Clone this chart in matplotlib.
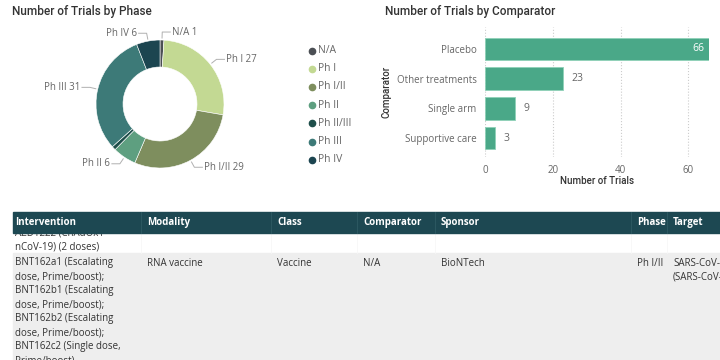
import matplotlib.pyplot as plt
import numpy as np

plt.rcParams['font.family'] = ['Open Sans', 'DejaVu Sans']

# donut data
phases = ['N/A', 'Ph I', 'Ph I/II', 'Ph II', 'Ph II/III', 'Ph III', 'Ph IV']
phase_counts = [1, 27, 29, 6, 1, 31, 6]
phase_colors = ['#4b4f54', '#c3d993', '#7e8e5e', '#5e9f80', '#1f4f4b', '#3d7a78', '#1c4550']
phase_show_label = [True, True, True, True, False, True, True]

# bar data
comparators = ['Placebo', 'Other treatments', 'Single arm', 'Supportive care']
comp_counts = [66, 23, 9, 3]

# table data
headers = ['Intervention', 'Modality', 'Class', 'Comparator', 'Sponsor', 'Phase', 'Target']
col_x = [15, 147, 277, 363, 441, 637, 673]
row1_lines = ['AZD1222 (ChAdOx1', 'nCoV-19) (2 doses)']
row2_cells = [
    ['BNT162a1 (Escalating', 'dose, Prime/boost);', 'BNT162b1 (Escalating',
     'dose, Prime/boost);', 'BNT162b2 (Escalating', 'dose, Prime/boost);',
     'BNT162c2 (Single dose,', 'Prime/boost)'],
    ['RNA vaccine'], ['Vaccine'], ['N/A'], ['BioNTech'], ['Ph I/II'],
    ['SARS-CoV-2', '(SARS-CoV-2)'],
]

W, H = 720, 360
fig = plt.figure(figsize=(7.2, 3.6), dpi=100)
fig.patch.set_facecolor('white')

def px_axes(x0, y0, x1, y1):
    # rectangle given in pixels, y from the top
    return fig.add_axes([x0 / W, 1 - y1 / H, (x1 - x0) / W, (y1 - y0) / H])

# background canvas in pixel coords
bg = px_axes(0, 0, W, H)
bg.set_xlim(0, W)
bg.set_ylim(H, 0)
bg.axis('off')

txt_gray = '#666666'
title_col = '#333333'

bg.text(12, 12, 'Number of Trials by Phase', fontsize=8.5, color=title_col,
        va='center', ha='left', family=['Roboto', 'DejaVu Sans'], fontweight='medium')
bg.text(385, 12, 'Number of Trials by Comparator', fontsize=8.5, color=title_col,
        va='center', ha='left', family=['Roboto', 'DejaVu Sans'], fontweight='medium')

# ---- donut ----
cx, cy = 160, 104
R = 64
dax = px_axes(cx - 100, cy - 100, cx + 100, cy + 100)
wedges, _ = dax.pie(phase_counts, colors=phase_colors, radius=R, startangle=90,
                    counterclock=False,
                    wedgeprops=dict(width=27, edgecolor='white', linewidth=0.4))
dax.set_xlim(-100, 100)
dax.set_ylim(-100, 100)
dax.set_aspect('equal')
dax.axis('off')
for w, name, n, show in zip(wedges, phases, phase_counts, phase_show_label):
    if not show:
        continue
    ang = np.deg2rad((w.theta1 + w.theta2) / 2)
    x0, y0 = (R + 2) * np.cos(ang), (R + 2) * np.sin(ang)
    x1, y1 = (R + 8) * np.cos(ang), (R + 8) * np.sin(ang)
    side = 1 if np.cos(ang) >= 0 else -1
    x2 = x1 + side * 8
    dax.plot([x0, x1, x2], [y0, y1, y1], color='#b0b0b0', lw=0.7, clip_on=False)
    dax.text(x2 + side * 2, y1, f'{name} {n}', fontsize=7, color=txt_gray,
             ha='left' if side > 0 else 'right', va='center', clip_on=False)

# legend
for i, (name, c) in enumerate(zip(phases, phase_colors)):
    ly = 50.5 + i * 18.2
    bg.plot(312, ly, 'o', color=c, ms=4.5)
    bg.text(318, ly, name, fontsize=7.5, color=txt_gray, va='center', ha='left')

# ---- bar chart ----
bax = px_axes(485, 27, 708.6, 157)
ypos = np.arange(len(comparators))
bax.barh(ypos, comp_counts, height=0.76, color='#4aa888', edgecolor='#8fd1b8', linewidth=0.6)
bax.set_xlim(0, 66)
bax.set_ylim(len(comparators) - 0.36, -0.74)
bax.set_yticks(ypos)
bax.set_yticklabels(comparators)
bax.set_xticks([0, 20, 40, 60])
bax.tick_params(axis='both', length=0, labelsize=7, labelcolor=txt_gray, pad=6)
for s in bax.spines.values():
    s.set_visible(False)
bax.grid(axis='x', linestyle=':', color='#cccccc', lw=0.8)
bax.set_axisbelow(True)
bax.set_xlabel('Number of Trials', fontsize=7, color=title_col, labelpad=0,
               family=['Roboto', 'DejaVu Sans'], fontweight='medium')
bax.set_ylabel('Comparator', fontsize=7, color=title_col, labelpad=4,
               family=['Roboto', 'DejaVu Sans'], fontweight='medium')
for y, v in zip(ypos, comp_counts):
    if v > 50:
        bax.text(v - 1.2, y, str(v), ha='right', va='center', fontsize=7.5, color='white')
    else:
        bax.text(v + 2.5, y, str(v), ha='left', va='center', fontsize=7.5, color=txt_gray)

# ---- table ----
hdr_top, hdr_bot = 212, 233
row2_top = 253
line_h = 14

bg.add_patch(plt.Rectangle((13, row2_top), W - 13, H - row2_top, color='#eeeeee', zorder=1))
for i, t in enumerate(row1_lines):
    bg.text(col_x[0], 233 + i * line_h, t, fontsize=7, color='#333333',
            va='center', ha='left', zorder=2)
for cx_, lines in zip(col_x, row2_cells):
    for i, t in enumerate(lines):
        bg.text(cx_, 263 + i * line_h, t, fontsize=7, color='#333333',
                va='center', ha='left', zorder=2, clip_on=True)
bg.add_patch(plt.Rectangle((13, hdr_top), W - 13, hdr_bot - hdr_top, color='#1d4852', zorder=3))
for xs in col_x[1:]:
    bg.plot([xs - 6, xs - 6], [hdr_top, hdr_bot], color='#2e5a63', lw=0.6, zorder=3.5)
    bg.plot([xs - 6, xs - 6], [hdr_bot, row2_top], color='#f7f7f7', lw=0.6, zorder=1.5)
for xs, h in zip(col_x, headers):
    bg.text(xs, (hdr_top + hdr_bot) / 2, h, fontsize=7, color='white', fontweight='bold',
            va='center', ha='left', zorder=4)

fig.savefig('out.png', dpi=100)
